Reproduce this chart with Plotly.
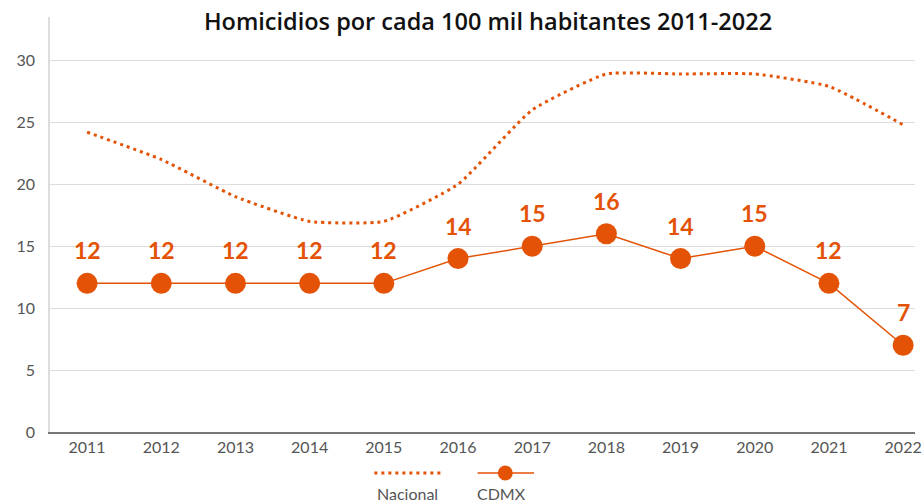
import plotly.graph_objects as go

years = ["2011", "2012", "2013", "2014", "2015", "2016", "2017", "2018", "2019", "2020", "2021", "2022"]
nacional = [24.2, 22.0, 19.0, 17.0, 17.0, 20.0, 26.0, 28.9, 28.9, 28.9, 27.9, 24.8]
cdmx = [12, 12, 12, 12, 12, 14, 15, 16, 14, 15, 12, 7]
cdmx_labels = [str(v) for v in cdmx]

ORANGE = "#E35205"
FONT = "Lato"

fig = go.Figure()
fig.add_trace(go.Scatter(
    x=years, y=nacional, mode="lines", name="Nacional",
    line=dict(color=ORANGE, width=3, dash="3px,4px", shape="spline", smoothing=0.45),
    showlegend=False, hoverinfo="skip",
))
fig.add_trace(go.Scatter(
    x=years, y=cdmx, mode="lines+markers", name="CDMX",
    line=dict(color=ORANGE, width=1.5),
    marker=dict(color=ORANGE, size=21),
    cliponaxis=False, showlegend=False,
))
# category axis: annotation x uses the category index
for i, (v, lab) in enumerate(zip(cdmx, cdmx_labels)):
    fig.add_annotation(x=i, y=v, text=lab, showarrow=False, yshift=33,
                       font=dict(family=FONT, size=23, color=ORANGE, weight="bold"))

# Legend drawn below the axis, symbol above label
W = 872
LY = -41 / 415
fig.add_shape(type="line", xref="paper", yref="paper", x0=(377-50)/W, x1=(445-50)/W,
              y0=LY, y1=LY, line=dict(color=ORANGE, width=3, dash="3px,4px"))
fig.add_shape(type="line", xref="paper", yref="paper", x0=(481-50)/W, x1=(538-50)/W,
              y0=LY, y1=LY, line=dict(color=ORANGE, width=1.5))
fig.add_shape(type="circle", xref="paper", yref="paper",
              x0=(509-50-7.5)/W, x1=(509-50+7.5)/W,
              y0=(-41-7.5)/415, y1=(-41+7.5)/415,
              line=dict(color=ORANGE, width=0), fillcolor=ORANGE)
fig.add_annotation(text="Nacional", xref="paper", yref="paper", x=(410-50)/W, y=-61/415,
                   yanchor="middle", showarrow=False, font=dict(family=FONT, size=16, color="#555555"))
fig.add_annotation(text="CDMX", xref="paper", yref="paper", x=(505-50)/W, y=-61/415,
                   yanchor="middle", showarrow=False, font=dict(family=FONT, size=16, color="#555555"))

fig.update_layout(
    width=922, height=503, autosize=False,
    margin=dict(l=50, r=0, t=17, b=71),
    paper_bgcolor="white", plot_bgcolor="white",
    font=dict(family=FONT, color="#555555"),
    title=dict(text="Homicidios por cada 100 mil habitantes 2011-2022",
               x=488/922, xanchor="center", y=1-22/503, yanchor="middle", yref="container",
               font=dict(family="Open Sans", size=23.5, color="#111111", weight=600)),
    xaxis=dict(type="category", range=[-0.5, 11.16], showgrid=False,
               showline=True, linecolor="#777777", linewidth=1.5,
               ticks="", tickfont=dict(size=16, color="#555555")),
    yaxis=dict(range=[0, 33.5], tick0=0, dtick=5, showgrid=True, gridcolor="#dddddd",
               gridwidth=1, zeroline=False, showline=True, linecolor="#dddddd", linewidth=1.5,
               ticks="", tickfont=dict(size=16, color="#555555"), ticklabelstandoff=10),
)

fig.write_html(
    "out.html",
    config={"responsive": False, "displayModeBar": False},
    post_script="document.body.style.margin='0';document.documentElement.style.overflow='hidden';",
)
